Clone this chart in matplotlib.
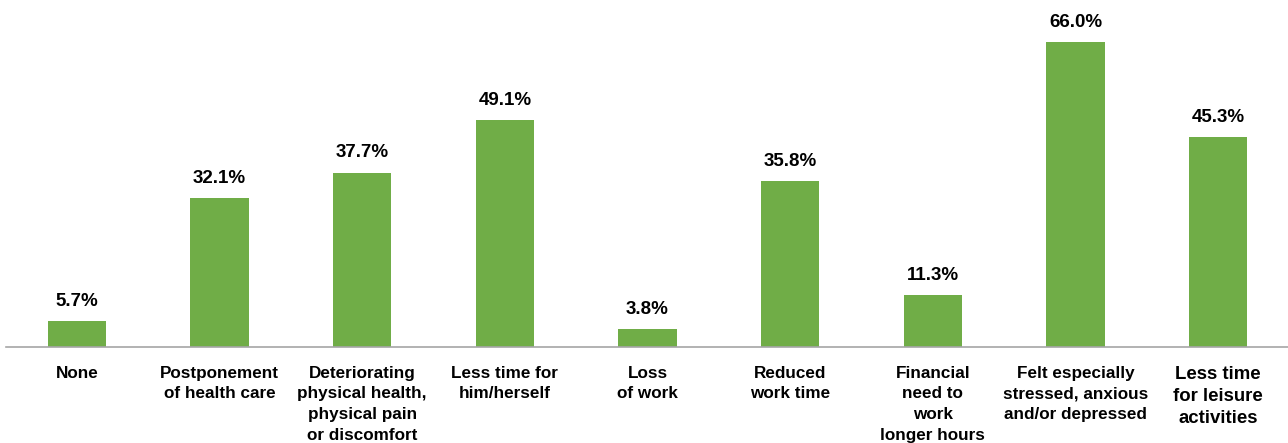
import matplotlib.pyplot as plt

plt.rcParams['font.family'] = ['Liberation Sans', 'DejaVu Sans']

# Impacts reported by caregivers (% of respondents)
categorias = [
    "None",
    "Postponement\nof health care",
    "Deteriorating\nphysical health,\nphysical pain\nor discomfort",
    "Less time for\nhim/herself",
    "Loss\nof work",
    "Reduced\nwork time",
    "Financial\nneed to\nwork\nlonger hours",
    "Felt especially\nstressed, anxious\nand/or depressed",
    "Less time\nfor leisure\nactivities",
]
porcentajes = [5.7, 32.1, 37.7, 49.1, 3.8, 35.8, 11.3, 66.0, 45.3]

verde = "#70AD47"

fig = plt.figure(figsize=(12.88, 4.43), dpi=100)
ax = fig.add_axes([5.5 / 1288, 96 / 443, 1284 / 1288, 347 / 443])

x = range(len(categorias))
barras = ax.bar(x, porcentajes, width=0.41, color=verde)

for xi, v in zip(x, porcentajes):
    ax.annotate(f"{v:.1f}%", (xi, v), xytext=(0, 8), textcoords="offset points",
                ha="center", va="bottom", fontsize=13.5, fontweight="bold")

ax.set_xlim(-0.5, 8.5)
ax.set_ylim(0, 75)
ax.set_yticks([])
ax.set_xticks(list(x))
ax.set_xticklabels(categorias, fontsize=12.3, fontweight="bold", linespacing=1.47)
ax.tick_params(axis="x", length=0, pad=13.5)
# la última etiqueta va un poco más grande
ultima = ax.get_xticklabels()[-1]
ultima.set_fontsize(13.4)
ultima.set_linespacing(1.4)

for lado in ["top", "right", "left"]:
    ax.spines[lado].set_visible(False)
ax.spines["bottom"].set_color("#A6A6A6")
ax.spines["bottom"].set_linewidth(1.2)

fig.savefig("out.png", dpi=100)
